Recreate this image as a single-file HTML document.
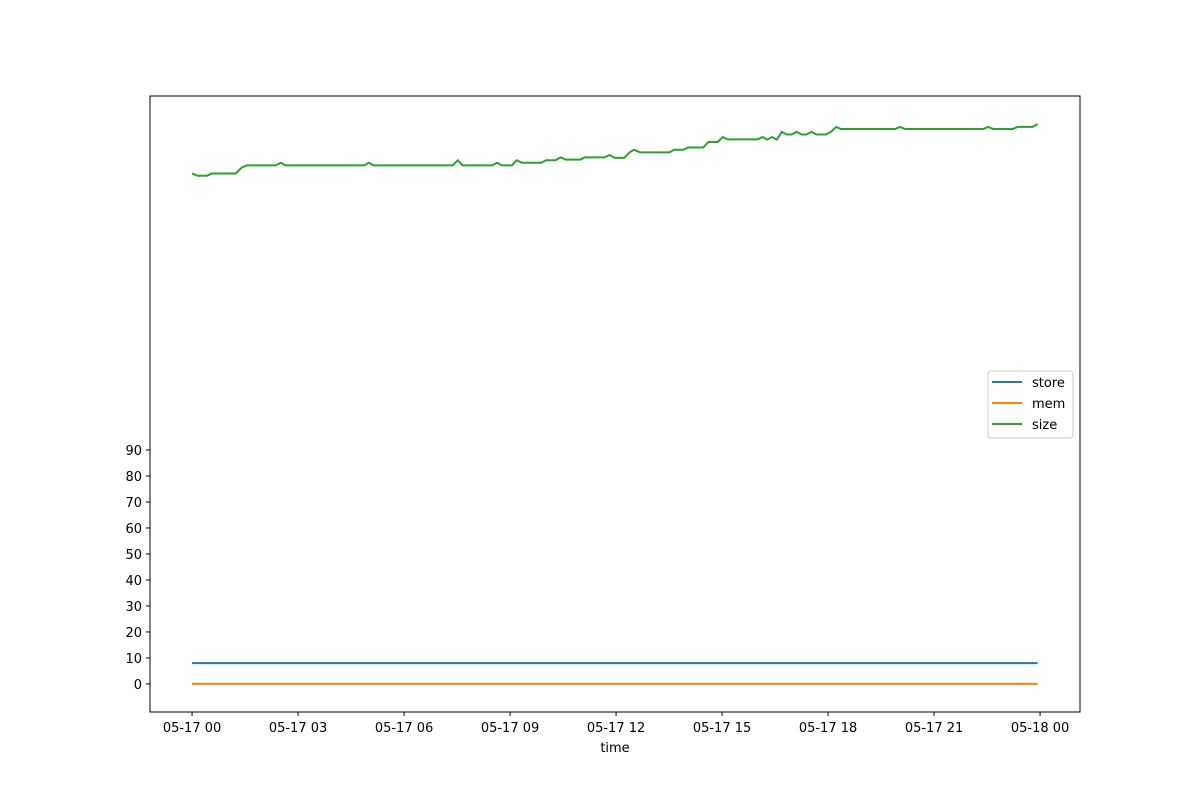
<!DOCTYPE html>
<html><head><meta charset="utf-8"><style>
body{margin:0;background:#fff}
text{font-family:"DejaVu Sans","Liberation Sans",sans-serif;font-size:13px;fill:#000}
</style></head><body>
<svg id="chart" width="1200" height="800"></svg>
<script>
const hours=[0,0.16,0.42,0.56,1.24,1.41,1.55,2.37,2.51,2.65,4.87,5.0,5.14,7.38,7.52,7.66,8.49,8.63,8.77,9.05,9.19,9.33,9.88,10.02,10.29,10.43,10.58,10.98,11.12,11.67,11.81,11.97,12.23,12.38,12.51,12.68,13.51,13.64,13.9,14.05,14.47,14.61,14.88,15.02,15.16,16.01,16.14,16.28,16.41,16.55,16.69,16.83,16.97,17.11,17.25,17.39,17.53,17.67,17.94,18.08,18.23,18.36,19.9,20.04,20.18,22.4,22.53,22.67,23.23,23.36,23.79,23.93];
const sizeVals=[196.4,195.5,195.5,196.4,196.4,198.7,199.5,199.5,200.5,199.5,199.5,200.5,199.5,199.5,201.5,199.5,199.5,200.5,199.5,199.5,201.5,200.5,200.5,201.5,201.5,202.6,201.7,201.7,202.6,202.6,203.5,202.4,202.4,204.5,205.5,204.5,204.5,205.5,205.5,206.4,206.4,208.5,208.5,210.4,209.5,209.5,210.4,209.4,210.4,209.4,212.4,211.4,211.4,212.4,211.4,211.4,212.4,211.4,211.4,212.4,214.3,213.5,213.5,214.3,213.5,213.5,214.3,213.5,213.5,214.3,214.3,215.4];
const storeVal=8, memVal=0;
const yTicks=[0,10,20,30,40,50,60,70,80,90];
const xTickHours=[0,3,6,9,12,15,18,21,24];
const xTickLabels=["05-17 00","05-17 03","05-17 06","05-17 09","05-17 12","05-17 15","05-17 18","05-17 21","05-18 00"];
const L=150,R=1080,T=96,B=712;
const x=h=>L+(h+1.19)/(25.13+1.19)*(R-L);
const y=v=>B-(v+10.8)/(226.2+10.8)*(B-T);
const svg=document.getElementById('chart');const NS='http://www.w3.org/2000/svg';
function mk(t,a,p){const e=document.createElementNS(NS,t);for(const k in a)e.setAttribute(k,a[k]);(p||svg).appendChild(e);return e;}
const frame=mk('rect',{x:L,y:T,width:R-L,height:B-T,fill:'none',stroke:'#000','stroke-width':1});


yTicks.forEach(v=>{const g=mk('g',{});


mk('line',{x1:L-4,x2:L,y1:y(v),y2:y(v),stroke:'#000'},g);
const t=mk('text',{x:L-8,y:y(v)+5,'text-anchor':'end'},g);t.textContent=v;});
xTickHours.forEach((h,i)=>{const g=mk('g',{});


mk('line',{x1:x(h),x2:x(h),y1:B,y2:B+4,stroke:'#000'},g);
const t=mk('text',{x:x(h),y:B+20,'text-anchor':'middle'},g);t.textContent=xTickLabels[i];});
const xt=mk('text',{x:(L+R)/2,y:752,'text-anchor':'middle'});xt.textContent='time';


const s1=mk('line',{x1:x(hours[0]),x2:x(hours[hours.length-1]),y1:y(storeVal),y2:y(storeVal),stroke:'#1f77b4','stroke-width':2});


const s2=mk('line',{x1:x(hours[0]),x2:x(hours[hours.length-1]),y1:y(memVal),y2:y(memVal),stroke:'#ff7f0e','stroke-width':2});


const s3=mk('polyline',{points:hours.map((h,i)=>x(h)+','+y(sizeVals[i])).join(' '),fill:'none',stroke:'#2ca02c','stroke-width':2,'stroke-linejoin':'round'});


const lg=mk('g',{});


mk('rect',{x:988,y:371,width:85,height:67,rx:3,fill:'#fff',stroke:'#ccc'},lg);
[['store','#1f77b4'],['mem','#ff7f0e'],['size','#2ca02c']].forEach((d,i)=>{const g=mk('g',{},lg);


const yy=382+i*21;mk('line',{x1:992,x2:1022,y1:yy,y2:yy,stroke:d[1],'stroke-width':2},g);
const t=mk('text',{x:1032,y:yy+5},g);t.textContent=d[0];});
</script>
</body></html>
